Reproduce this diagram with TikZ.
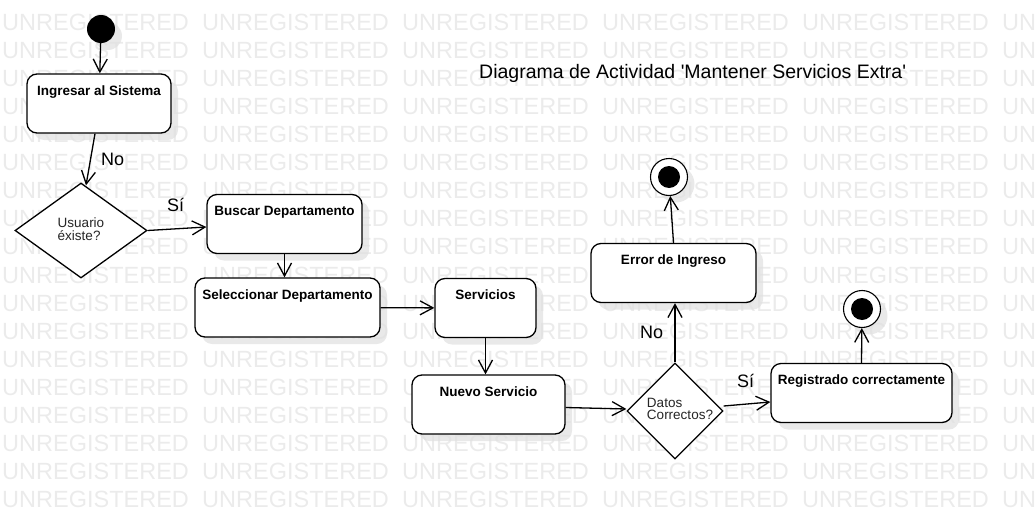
\documentclass[tikz,border=0pt]{standalone}
\usepackage{fontspec}
\setmainfont{Liberation Sans}
\usetikzlibrary{arrows.meta,shapes.geometric,shadows}

\begin{document}
\begin{tikzpicture}[x=1pt,y=-1pt,>={Straight Barb[length=13pt,width=14pt]},
  wm/.style={anchor=base west,inner sep=0pt,text=black!8,font=\fontsize{23.5}{24}\selectfont},
  shd/.style={drop shadow={fill=black!12,opacity=0.7,shadow xshift=7pt,shadow yshift=-7pt}},
  act/.style={draw,line width=1.3pt,rounded corners=10pt,fill=white,shd,
    minimum height=59pt,inner ysep=0pt,text height=21pt,text depth=38pt,
    font=\fontsize{13.5}{16}\selectfont\bfseries},
  dec/.style={draw,diamond,line width=1.3pt,fill=white,inner sep=0pt},
  dtxt/.style={align=left,inner sep=0pt,text=black!85,font=\fontsize{13.5}{12.5}\selectfont},
  fin/.style={circle,draw,line width=1.1pt,fill=white,minimum size=37pt,shd,
    path picture={\fill[black] (path picture bounding box.center) circle (11pt);}},
  lbl/.style={anchor=base west,inner sep=0pt,font=\fontsize{18}{20}\selectfont},
  flow/.style={->,line width=1.3pt}]
  \useasboundingbox (0,0) rectangle (1035,519);
  % watermark
  \begin{scope}
    \clip (0,0) rectangle (1035,519);
    \foreach \r in {0,...,17}
      \foreach \c in {0,...,5}
        \node[wm] (wm-\r-\c) at (\c*200+2,30.5+\r*28.06) {UNREGISTERED};
  \end{scope}
  \node[anchor=base west,inner sep=0pt,font=\fontsize{19.5}{22}\selectfont] (titulo) at (479,78)
    {Diagrama de Actividad \textquotesingle Mantener Servicios Extra\textquotesingle};
  % states
  \node[circle,fill=black,minimum size=28pt,shd] (start) at (101,29) {};
  \node[act,minimum width=144pt] (ingresar) at (99,103.5) {Ingresar al Sistema};
  \node[dec,minimum width=132pt,minimum height=95pt] (usuario) at (81,230.5) {};
  \node[dtxt] (usuario-t) at (81,229) {Usuario\\éxiste?};
  \node[act,minimum width=155pt] (buscar) at (284.5,224) {Buscar Departamento};
  \node[act,minimum width=185pt] (selec) at (287.5,307.5) {Seleccionar Departamento};
  \node[act,minimum width=101pt] (servicios) at (485.5,308) {Servicios};
  \node[act,minimum width=153pt] (nuevo) at (488.5,404.5) {Nuevo Servicio};
  \node[dec,minimum width=96pt,minimum height=96pt] (datos) at (675,411) {};
  \node[dtxt] (datos-t) at (680,409) {Datos\\Correctos?};
  \node[act,minimum width=165pt] (error) at (673.5,273) {Error de Ingreso};
  \node[act,minimum width=181pt] (registrado) at (861.5,393) {Registrado correctamente};
  \node[fin] (fin1) at (669,177) {};
  \node[fin] (fin2) at (862,309) {};
  % transitions
  \draw[flow] (start) -- (ingresar);
  \draw[flow] ([xshift=-4pt]ingresar.south) -- ([xshift=5pt,yshift=-3pt]usuario.north);
  \draw[flow] (usuario.east) -- ([yshift=-3pt]buscar.west);
  \draw[flow] (buscar.south) -- (buscar.south |- selec.north);
  \draw[flow] (selec) -- (servicios);
  \draw[flow] (servicios.south) -- (servicios.south |- nuevo.north);
  \draw[flow] ([yshift=-3pt]nuevo.east) -- ([yshift=2pt]datos.west);
  \draw[flow] (datos.north) -- (datos.north |- error.south);
  \draw[flow] ([yshift=5pt]datos.east) -- ([yshift=-9pt]registrado.west);
  \draw[flow] (error.north) -- (fin1);
  \draw[flow] (registrado.north) -- (fin2);
  \node[lbl] (no1) at (101,165) {No};
  \node[lbl] (si1) at (167,211) {Sí};
  \node[lbl] (no2) at (640,338) {No};
  \node[lbl] (si2) at (737,387) {Sí};
\end{tikzpicture}
\end{document}
